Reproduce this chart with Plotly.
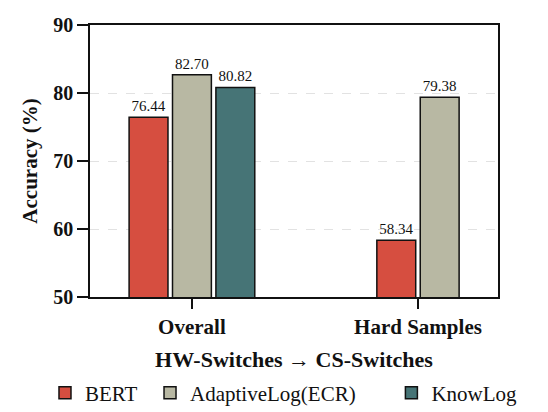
import plotly.graph_objects as go

categories = ["Overall", "Hard Samples"]
series_names = ["BERT", "AdaptiveLog(ECR)", "KnowLog"]
bert = [76.44, 58.34]
adaptive = [82.70, 79.38]
knowlog = [80.82, None]
colors = ["#D64E40", "#B8B8A3", "#467476"]

series_values = [bert, adaptive, knowlog]
FONT = "Liberation Serif, Times New Roman, serif"
BAR_W = 0.172
SPACING = 0.192
LEGEND_IDS = ["legend", "legend2", "legend3"]
LEGEND_X = [0.0685, 0.263, 0.71]

fig = go.Figure()

positions = {k: [] for k in range(len(series_values))}
for ci in range(len(categories)):
    present = [k for k, vals in enumerate(series_values) if vals[ci] is not None]
    n = len(present)
    for j, k in enumerate(present):
        positions[k].append((ci, ci + (j - (n - 1) / 2) * SPACING))

for k, (name, vals) in enumerate(zip(series_names, series_values)):
    xs = [p for (ci, p) in positions[k]]
    ys = [vals[ci] for (ci, p) in positions[k]]
    fig.add_trace(go.Bar(
        x=xs, y=ys, name=name, width=BAR_W, legend=LEGEND_IDS[k],
        marker=dict(color=colors[k], line=dict(color="#111111", width=1.5)),
        text=ys, texttemplate="%{y:.2f}", textposition="outside",
        textfont=dict(family=FONT, size=15, color="#111111"),
        cliponaxis=False,
    ))

legend_style = dict(
    orientation="h", xref="container", yref="container",
    xanchor="left", y=0.047, yanchor="middle",
    font=dict(family=FONT, size=21, color="#111111"),
    bgcolor="rgba(0,0,0,0)",
)

# the page has an 8px body margin, so the figure is sized to fit the window
fig.update_layout(
    width=540, height=404,
    margin=dict(l=82, r=50, t=17, b=115, autoexpand=False),
    plot_bgcolor="white", paper_bgcolor="white",
    barmode="overlay",
    font=dict(family=FONT, color="#111111"),
    showlegend=True,
    legend=dict(x=LEGEND_X[0], **legend_style),
    legend2=dict(x=LEGEND_X[1], **legend_style),
    legend3=dict(x=LEGEND_X[2], **legend_style),
)

fig.update_xaxes(
    range=[-0.451, 1.354], automargin=False,
    tickvals=list(range(len(categories))), ticktext=categories,
    tickfont=dict(family=FONT, size=21, weight="bold", color="#111111"),
    ticks="outside", ticklen=10, tickwidth=1.5, tickcolor="#111111",
    showline=True, linecolor="#111111", linewidth=1.5, mirror=True,
    showgrid=False, zeroline=False,
    title=dict(text="HW-Switches → CS-Switches",
               font=dict(family=FONT, size=22, weight="bold", color="#111111"),
               standoff=14),
)
fig.update_yaxes(
    range=[50, 90], dtick=10, automargin=False,
    tickfont=dict(family=FONT, size=20, weight="bold", color="#111111"),
    ticks="outside", ticklen=11, tickwidth=1.5, tickcolor="#111111",
    showline=True, linecolor="#111111", linewidth=1.5, mirror=True,
    showgrid=True, gridcolor="#E2E2E2", griddash="dash", gridwidth=1,
    zeroline=False,
    title=dict(text="Accuracy (%)",
               font=dict(family=FONT, size=21, weight="bold", color="#111111"),
               standoff=10),
)

fig.write_html("out.html")
